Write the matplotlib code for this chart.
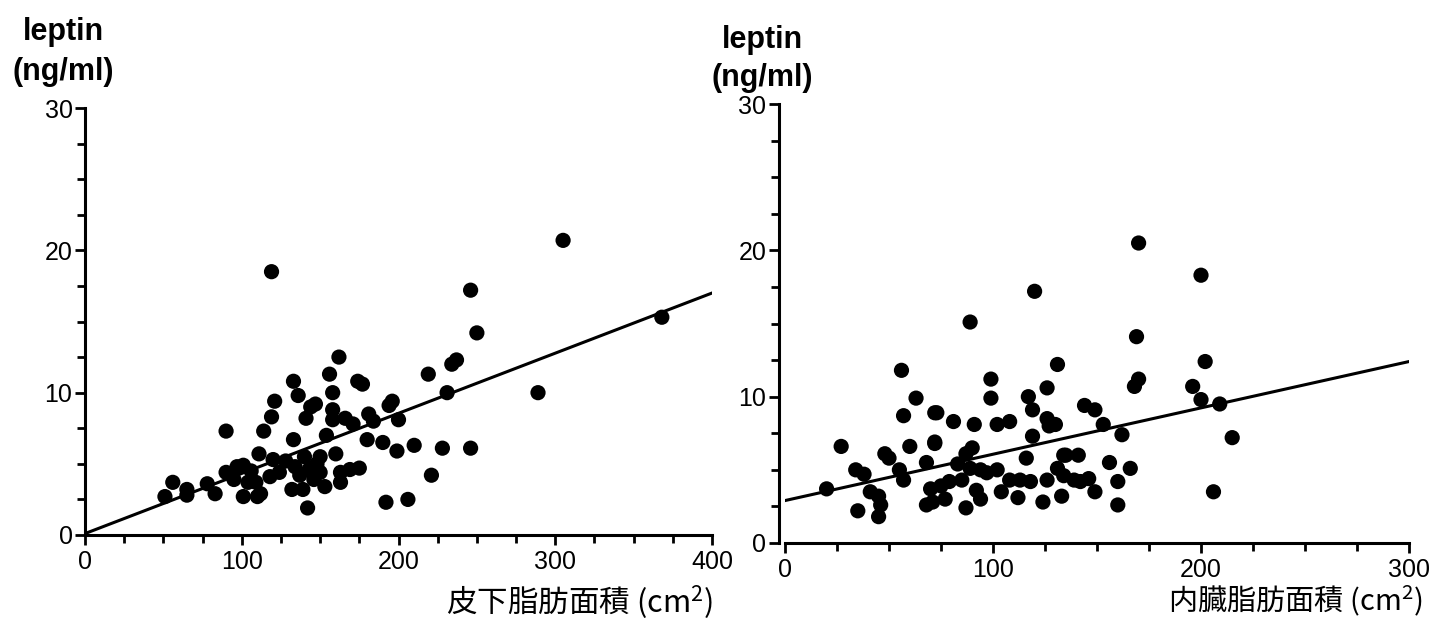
import matplotlib
matplotlib.use("Agg")
import matplotlib.pyplot as plt
import numpy as np

# ---------------- data ----------------
# Left panel: subcutaneous fat area (cm2) vs leptin (ng/ml)
sub_x = [51, 56, 65, 65, 78, 83, 90, 90, 95, 97, 101, 101, 104, 106, 109, 110,
         111, 112, 114, 118, 119, 121, 120, 119, 124, 128, 132, 133, 133, 136,
         134, 137, 139, 140, 141, 142, 143, 144, 147, 146, 148, 150, 150, 153,
         154, 156, 158, 158, 158, 160, 162, 163, 163, 166, 169, 171, 174, 177,
         175, 180, 181, 184, 190, 192, 194, 196, 199, 200, 206, 210, 219, 221,
         228, 231, 234, 237, 246, 246, 250, 289, 305, 368]
sub_y = [2.7, 3.7, 3.2, 2.8, 3.6, 2.9, 7.3, 4.4, 3.9, 4.8, 4.9, 2.7, 3.7, 4.5, 3.7, 2.7,
         5.7, 2.9, 7.3, 4.1, 8.3, 9.4, 5.3, 18.5, 4.4, 5.2, 3.2, 10.8, 6.7, 9.8,
         4.8, 4.2, 3.2, 5.5, 8.2, 1.9, 4.6, 9.0, 9.2, 3.9, 5.0, 5.5, 4.4, 3.4,
         7.0, 11.3, 10.0, 8.8, 8.1, 5.7, 12.5, 3.7, 4.4, 8.2, 4.6, 7.8, 10.8, 10.6,
         4.7, 6.7, 8.5, 8.0, 6.5, 2.3, 9.1, 9.4, 5.9, 8.1, 2.5, 6.3, 11.3, 4.2,
         6.1, 10.0, 12.0, 12.3, 17.2, 6.1, 14.2, 10.0, 20.7, 15.3]
sub_line_x = [0, 400]
sub_line_y = [0.1, 17.0]

# Right panel: visceral fat area (cm2) vs leptin (ng/ml)
vis_x = [56, 63, 57, 72, 27, 48, 50, 60, 72, 34, 38, 55, 57, 68, 20, 41, 45, 46,
         35, 45, 70, 68, 120, 89, 131, 99, 99, 126, 117, 119, 73, 81, 91, 102,
         108, 126, 130, 127, 72, 119, 90, 87, 83, 116, 134, 89, 94, 102, 97,
         85, 79, 75, 108, 113, 118, 92, 94, 87, 104, 112, 126, 124, 131, 71, 77,
         169, 202, 170, 168, 196, 200, 209, 144, 149, 153, 162, 135, 141, 156,
         166, 134, 139, 146, 142, 160, 149, 133, 160, 206, 170, 200, 215]
vis_y = [11.8, 9.9, 8.7, 8.9, 6.6, 6.1, 5.8, 6.6, 6.8, 5.0, 4.7, 5.0, 4.3, 5.5,
         3.7, 3.5, 3.2, 2.6, 2.2, 1.8, 3.7, 2.6, 17.2, 15.1, 12.2, 11.2, 9.9, 10.6,
         10.0, 9.1, 8.9, 8.3, 8.1, 8.1, 8.3, 8.5, 8.1, 8.0, 6.9, 7.3, 6.5, 6.1,
         5.4, 5.8, 6.0, 5.1, 5.0, 5.0, 4.8, 4.3, 4.2, 3.9, 4.3, 4.3, 4.2, 3.6,
         3.0, 2.4, 3.5, 3.1, 4.3, 2.8, 5.1, 2.8, 3.0, 14.1, 12.4, 11.2, 10.7,
         10.7, 9.8, 9.5, 9.4, 9.1, 8.1, 7.4, 6.0, 6.0, 5.5, 5.1, 4.6, 4.3, 4.4,
         4.2, 4.2, 3.5, 3.2, 2.6, 3.5, 20.5, 18.3, 7.2]
vis_line_x = [0, 300]
vis_line_y = [2.9, 12.4]

x_ticks_left = [0, 100, 200, 300, 400]
x_ticks_right = [0, 100, 200, 300]
y_ticks = [0, 10, 20, 30]

xlabel_left = "皮下脂肪面積 (cm$^2$)"
xlabel_right = "内臓脂肪面積 (cm$^2$)"
ylabel_1 = "leptin"
ylabel_2 = "(ng/ml)"

# ---------------- figure ----------------
W, H = 1430, 621
fig = plt.figure(figsize=(W / 100, H / 100), dpi=100)
plt.rcParams['font.family'] = ['Liberation Sans', 'DejaVu Sans']
plt.rcParams['mathtext.fontset'] = 'custom'
plt.rcParams['mathtext.rm'] = 'Liberation Sans'
plt.rcParams['mathtext.it'] = 'Liberation Sans'
plt.rcParams['mathtext.default'] = 'regular'
cjk = ['Noto Sans CJK JP', 'Liberation Sans', 'DejaVu Sans']


def px_axes(x0, y0_top, x1, y1_bottom):
    return [x0 / W, 1 - y1_bottom / H, (x1 - x0) / W, (y1_bottom - y0_top) / H]


def style(ax, xmax, xticks, yoff):
    ax.set_xlim(0, xmax)
    ax.set_ylim(0, 30)
    for s in ['top', 'right']:
        ax.spines[s].set_visible(False)
    for s in ['left', 'bottom']:
        ax.spines[s].set_linewidth(2.2)
    if yoff:
        ax.spines['left'].set_position(('outward', yoff))
    ax.set_xticks(xticks)
    ax.set_xticks(np.arange(0, xmax + 1, 25), minor=True)
    ax.set_yticks(y_ticks)
    ax.set_yticks(np.arange(0, 30.1, 2.5), minor=True)
    ax.tick_params(which='both', direction='out', width=2.0, color='black')
    ax.tick_params(which='major', length=7, labelsize=18, pad=4)
    ax.tick_params(which='minor', length=6)
    ax.tick_params(axis='y', which='major', pad=2)


# Left panel
ax1 = fig.add_axes(px_axes(85, 108, 712, 535))
ax1.scatter(sub_x, sub_y, s=120, color='black', edgecolors='none', zorder=3,
            clip_on=False)
ax1.plot(sub_line_x, sub_line_y, color='black', lw=2.2, zorder=2)
style(ax1, 400, x_ticks_left, 0)

# Right panel
ax2 = fig.add_axes(px_axes(785, 104, 1409, 543))
ax2.scatter(vis_x, vis_y, s=120, color='black', edgecolors='none', zorder=3,
            clip_on=False)
ax2.plot(vis_line_x, vis_line_y, color='black', lw=2.2, zorder=2)
style(ax2, 300, x_ticks_right, 4.5)

# Y labels (above axes)
fig.text(63 / W, 1 - 32 / H, ylabel_1, ha='center', va='center',
         fontsize=22, fontweight='bold')
fig.text(63 / W, 1 - 72 / H, ylabel_2, ha='center', va='center',
         fontsize=22, fontweight='bold')
fig.text(762 / W, 1 - 40 / H, ylabel_1, ha='center', va='center',
         fontsize=22, fontweight='bold')
fig.text(762 / W, 1 - 78 / H, ylabel_2, ha='center', va='center',
         fontsize=22, fontweight='bold')

# X labels
fig.text(713 / W, 1 - 603 / H, xlabel_left, ha='right', va='center',
         fontsize=22, family=cjk)
fig.text(1423 / W, 1 - 601 / H, xlabel_right, ha='right', va='center',
         fontsize=21, family=cjk)

fig.savefig("out.png", dpi=100)
